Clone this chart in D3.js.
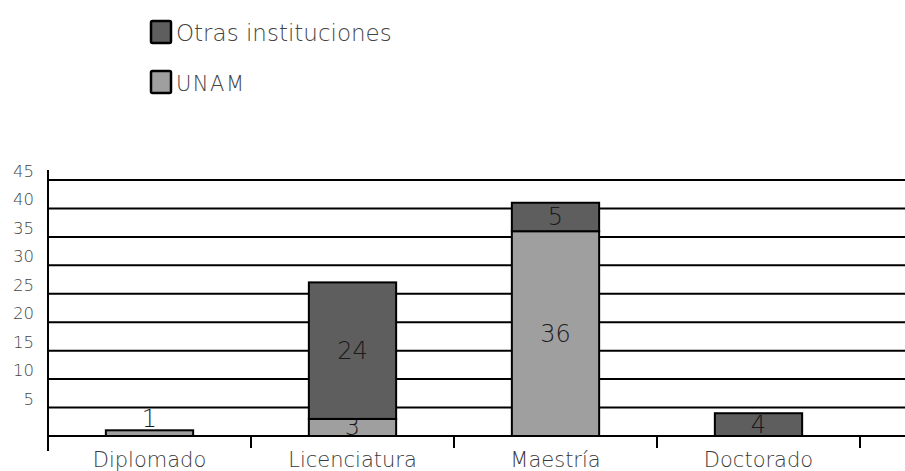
<!DOCTYPE html>
<html><head><meta charset="utf-8">
<script src="https://cdn.jsdelivr.net/npm/d3@7"></script>
<style>
body{margin:0;background:#fff;}
text{font-family:"DejaVu Sans","Open Sans",sans-serif;font-weight:200;}
</style></head>
<body>
<svg id="c" width="905" height="471"></svg>
<script>
const categories = ["Diplomado","Licenciatura","Maestría","Doctorado"];
const unam = [1, 3, 36, 0];
const otras = [0, 24, 5, 4];
const yTicks = [5,10,15,20,25,30,35,40,45];
const seriesNames = ["Otras instituciones","UNAM"];
const colors = {"UNAM":"#a09fa0","Otras instituciones":"#5f5e5f"};

const svg = d3.select("#c");
const x0 = 48, x1 = 860, yBase = 436, yTop = 180;
const x = d3.scaleBand().domain(categories).range([x0, x1]).paddingInner(0.57).paddingOuter(0.285);
const y = d3.scaleLinear().domain([0,45]).range([yBase, yTop]);

// gridlines
svg.append("g").selectAll("line").data(yTicks).join("line")
  .attr("x1", x0).attr("x2", 905)
  .attr("y1", d=>y(d)).attr("y2", d=>y(d))
  .attr("stroke","#000").attr("stroke-width",2);

// y tick labels
svg.append("g").selectAll("text").data(yTicks).join("text")
  .attr("x", 34).attr("y", d=>y(d)-3)
  .attr("text-anchor","end").attr("font-size",16.5).attr("fill","#444")
  .text(d=>d);

// baseline
svg.append("line").attr("x1",x0).attr("x2",905).attr("y1",yBase).attr("y2",yBase)
  .attr("stroke","#000").attr("stroke-width",2);
// y axis line
svg.append("line").attr("x1",x0).attr("x2",x0).attr("y1",170).attr("y2",451)
  .attr("stroke","#000").attr("stroke-width",2);

// category boundary ticks
const step = x.step();
const bounds = categories.map((c,i)=> x0 + step*(i+1));
svg.append("g").selectAll("line").data(bounds).join("line")
  .attr("x1",d=>d).attr("x2",d=>d).attr("y1",yBase).attr("y2",448)
  .attr("stroke","#000").attr("stroke-width",2);

// stacked data
const rows = categories.map((c,i)=>({cat:c, "UNAM":unam[i], "Otras instituciones":otras[i]}));
const stack = d3.stack().keys(["UNAM","Otras instituciones"])(rows);

stack.forEach(layer=>{
  const key = layer.key;
  layer.forEach(seg=>{
    const v = seg[1]-seg[0];
    if (v<=0) return;
    const cx = x(seg.data.cat);
    const top = y(seg[1]), bot = y(seg[0]);
    svg.append("rect").attr("x",cx).attr("y",top)
      .attr("width",x.bandwidth()).attr("height",bot-top)
      .attr("fill",colors[key]).attr("stroke","#000").attr("stroke-width",2);
    const h = bot-top;
    const ty = h < 10 ? top - 3 : (top+bot)/2 + 8;
    svg.append("text").attr("x",cx+x.bandwidth()/2).attr("y",ty)
      .attr("text-anchor","middle").attr("font-size",24).attr("fill","#1a1a1a")
      .text(v);
  });
});

// category labels
svg.append("g").selectAll("text").data(categories).join("text")
  .attr("x",d=>x(d)+x.bandwidth()/2).attr("y",467)
  .attr("text-anchor","middle").attr("font-size",21).attr("fill","#3a3a3a")
  .text(d=>d);

// legend
const leg = [{name:"Otras instituciones", y:21, fs:23, ls:0},{name:"UNAM", y:71, fs:21, ls:1.5}];
leg.forEach(l=>{
  svg.append("rect").attr("x",151).attr("y",l.y).attr("width",20).attr("height",22)
    .attr("fill",colors[l.name]).attr("stroke","#000").attr("stroke-width",2.5).attr("rx",1.5);
  svg.append("text").attr("x",176).attr("y",l.y+20).attr("font-size",l.fs).attr("fill","#444")
    .attr("letter-spacing",l.ls)
    .text(l.name);
});
</script>
</body></html>
